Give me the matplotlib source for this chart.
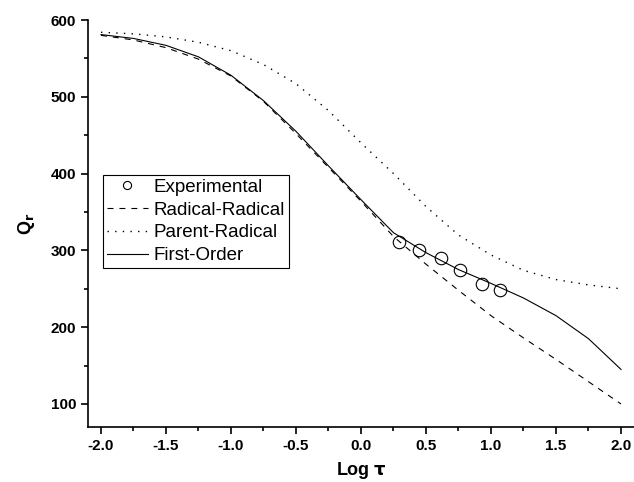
import numpy
from matplotlib import pyplot

pyplot.rcParams["font.family"] = ["Liberation Sans", "DejaVu Sans"]
pyplot.rcParams["lines.scale_dashes"] = False

log_tau = numpy.asarray([-2.0, -1.75, -1.5, -1.25, -1.0, -0.75, -0.5, -0.25,
                         0.0, 0.25, 0.5, 0.75, 1.0, 1.25, 1.5, 1.75, 2.0])
radical_radical = numpy.asarray([580, 574, 564, 549, 527, 494, 452, 408,
                                 364, 318, 282, 248, 215, 186, 158, 129, 100])
parent_radical = numpy.asarray([584, 582, 578, 571, 560, 542, 517, 482,
                                440, 400, 357, 320, 294, 274, 262, 255, 250])
first_order = numpy.asarray([581, 576, 567, 552, 528, 495, 455, 410,
                             366, 323, 297, 275, 257, 238, 215, 185, 145])

exp_x = numpy.asarray([0.29, 0.446, 0.618, 0.762, 0.928, 1.07])
exp_q = numpy.asarray([311, 300.5, 290, 274.5, 256, 248])

fig = pyplot.figure(figsize=(6.34, 4.82), dpi=100)
axes = fig.add_axes([0.1388, 0.1141, 0.8612, 0.8444])

axes.plot(exp_x, exp_q, "o", mfc="none", mec="black", ms=9, mew=0.8,
          label="Experimental")
axes.plot(log_tau, radical_radical, color="black", lw=0.8,
          linestyle=(0, (4.3, 4.3)), label="Radical-Radical")
axes.plot(log_tau, parent_radical, color="black", lw=1.0,
          linestyle=(0, (1, 4.5)), label="Parent-Radical")
axes.plot(log_tau, first_order, color="black", lw=0.8, label="First-Order")

axes.set_xlim(-2.1, 2.1)
axes.set_ylim(70, 600)
axes.set_xticks(numpy.arange(-2.0, 2.01, 0.5))
axes.set_xticks(numpy.arange(-1.75, 2.0, 0.5), minor=True)
axes.set_yticks([100, 200, 300, 400, 500, 600])
axes.set_yticks([150, 250, 350, 450, 550], minor=True)
axes.set_xticklabels(["%.1f" % v for v in numpy.arange(-2.0, 2.01, 0.5)])

for side in ["top", "right"]:
    axes.spines[side].set_visible(False)
for side in ["left", "bottom"]:
    axes.spines[side].set_linewidth(1.2)
axes.tick_params(direction="out", length=5, width=1.2, labelsize=11)
axes.tick_params(which="minor", direction="out", length=3, width=1.2)
for lab in axes.get_xticklabels() + axes.get_yticklabels():
    lab.set_fontweight("bold")

axes.set_xlabel(r"Log $\mathbf{\tau}$", fontsize=13, fontweight="bold",
                labelpad=5)
axes.set_ylabel(r"Q$_\mathbf{r}$", fontsize=13, fontweight="bold",
                labelpad=10)

leg = axes.legend(loc="upper left", bbox_to_anchor=(0.0275, 0.619),
                  borderaxespad=0, fontsize=13.5, fancybox=False,
                  edgecolor="black", framealpha=1, handlelength=2.2,
                  handletextpad=0.3, labelspacing=0.3, borderpad=0.2,
                  markerscale=0.65)
leg.get_frame().set_linewidth(0.8)

fig.savefig("out.png", dpi=100)
